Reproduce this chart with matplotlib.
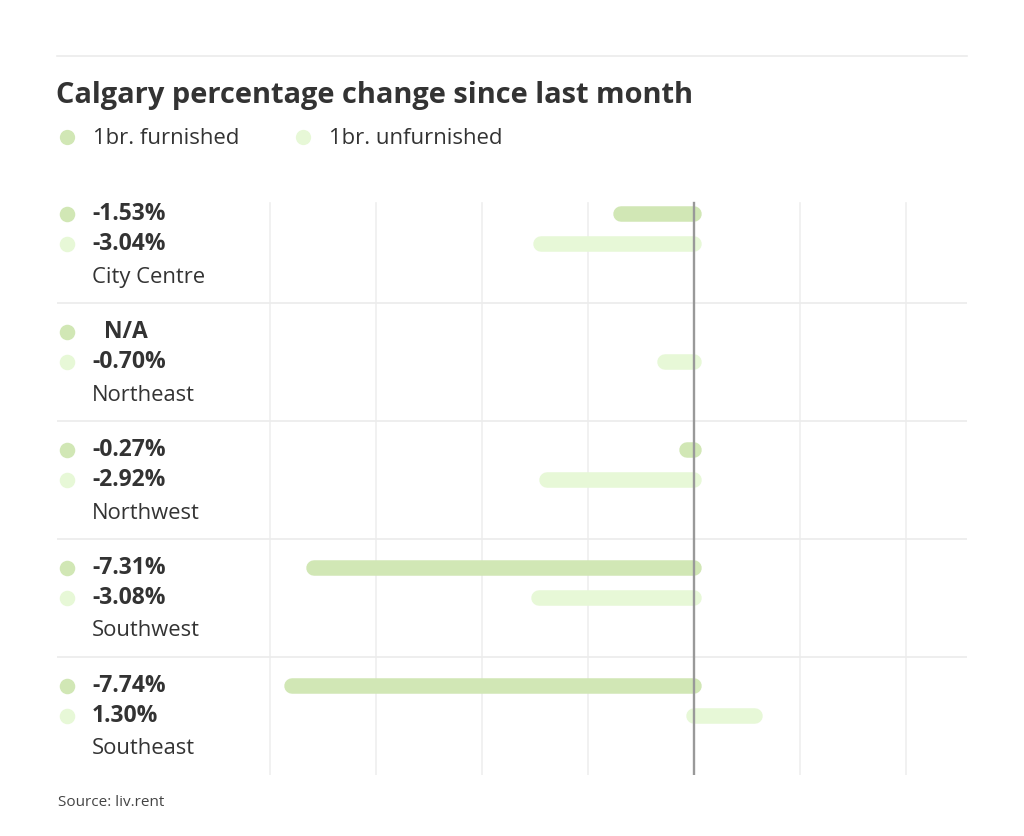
import matplotlib
matplotlib.use("Agg")
import matplotlib.pyplot as plt
from matplotlib.transforms import blended_transform_factory

plt.rcParams['font.family'] = ['Open Sans', 'DejaVu Sans']

# ---- data ----
title = "Calgary percentage change since last month"
series_names = ["1br. furnished", "1br. unfurnished"]
regions = ["City Centre", "Northeast", "Northwest", "Southwest", "Southeast"]
furnished = [-1.53, None, -0.27, -7.31, -7.74]
unfurnished = [-3.04, -0.70, -2.92, -3.08, 1.30]
furnished_labels = ["-1.53%", "  N/A", "-0.27%", "-7.31%", "-7.74%"]
unfurnished_labels = ["-3.04%", "-0.70%", "-2.92%", "-3.08%", "1.30%"]
grid_ticks = [-8, -6, -4, -2, 2, 4]
source = "Source: liv.rent"

# ---- style ----
c_furn = "#d1e7b5"
c_unfurn = "#e7f8d7"
c_text = "#333333"
c_grid = "#efefef"
c_sep = "#ebebeb"
c_zero = "#999999"

W, H = 1024, 836
fig = plt.figure(figsize=(W / 100, H / 100), dpi=100)
fig.patch.set_facecolor("white")

# axes: x from 57 to 967 px, y from 185 to 775 px (from top)
ax_l, ax_r, ax_t, ax_b = 57, 967, 185, 775
ax = fig.add_axes([ax_l / W, 1 - ax_b / H, (ax_r - ax_l) / W, (ax_b - ax_t) / H])
ax.set_axis_off()
px_per_unit = 53.0
zero_px = 694
xmin = -(zero_px - ax_l) / px_per_unit
xmax = (ax_r - zero_px) / px_per_unit
ax.set_xlim(xmin, xmax)
n = len(regions)
ax.set_ylim(n, 0)

grid_top_frac = (ax_b - 203) / (ax_b - ax_t)

# vertical grid lines
for t in grid_ticks:
    ax.axvline(t, ymin=0, ymax=grid_top_frac, color=c_grid, lw=1.2, zorder=1)

# horizontal separators
for i in range(1, n):
    ax.axhline(i, color=c_sep, lw=1.2, zorder=1)

y_f = 28.5 / 118
y_u = 58.5 / 118
y_name = 92 / 118

lw_px = 15.5
lw_pt = lw_px * 72 / 100
r_units = (lw_px / 2) / px_per_unit

def bar(v, y, color):
    if v is None:
        return
    s = 1 if v > 0 else -1
    end = v - s * r_units
    ax.plot([0, end], [y, y], color=color, lw=lw_pt, solid_capstyle="round",
            zorder=3)

for i in range(n):
    bar(furnished[i], i + y_f, c_furn)
    bar(unfurnished[i], i + y_u, c_unfurn)

# zero line
ax.axvline(0, ymin=0, ymax=grid_top_frac, color=c_zero, lw=1.7, zorder=4)

# left column labels
tr = blended_transform_factory(fig.transFigure, ax.transData)
dot_x = 67 / W
txt_x = 92 / W
for i in range(n):
    ax.scatter([dot_x], [i + y_f], s=125, color=c_furn, transform=tr,
               clip_on=False, zorder=5, linewidths=0)
    ax.scatter([dot_x], [i + y_u], s=125, color=c_unfurn, transform=tr,
               clip_on=False, zorder=5, linewidths=0)
    ax.text(txt_x, i + y_f, furnished_labels[i], transform=tr, fontsize=16.5,
            fontweight="bold", color=c_text, va="center", ha="left")
    ax.text(txt_x, i + y_u, unfurnished_labels[i], transform=tr, fontsize=16.5,
            fontweight="bold", color=c_text, va="center", ha="left")
    ax.text(txt_x, i + y_name, regions[i], transform=tr, fontsize=15.8,
            color=c_text, va="center", ha="left")

# top rule
fig.add_artist(plt.Line2D([57 / W, 967 / W], [1 - 56 / H, 1 - 56 / H],
                          color=c_sep, lw=1.2))

# title
fig.text(56 / W, 1 - 95 / H, title, fontsize=20.9, fontweight="bold",
         color=c_text, va="center", ha="left")

# legend
leg_y = 1 - 138.5 / H
for name, col, dx, tx in [(series_names[0], c_furn, 67, 93),
                          (series_names[1], c_unfurn, 303, 329)]:
    fig.add_artist(plt.Line2D([dx / W], [1 - 137 / H], marker="o", markersize=11,
                              color=col, markeredgewidth=0, linestyle="none"))
    fig.text(tx / W, leg_y, name, fontsize=15.9, color=c_text, va="center",
             ha="left")

# source
fig.text(58 / W, 1 - 803 / H, source, fontsize=11, color="#444444",
         va="center", ha="left")

fig.savefig("out.png", dpi=100, facecolor="white")
